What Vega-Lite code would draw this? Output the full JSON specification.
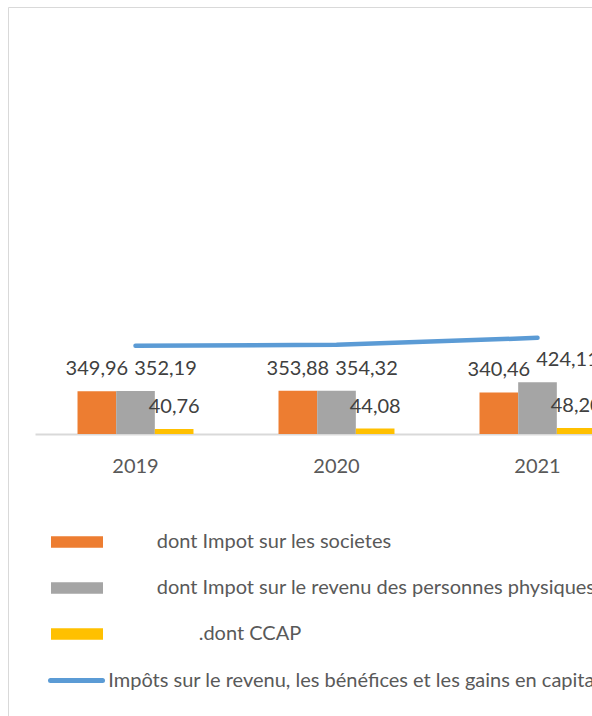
{
  "$schema": "https://vega.github.io/schema/vega-lite/v6.json",
  "width": 584,
  "height": 709,
  "autosize": {"type": "none"},
  "padding": {"left": 8, "top": 7, "right": 0, "bottom": 0},
  "background": "white",
  "config": {
    "view": {"stroke": "#d9d9d9", "strokeWidth": 1},
    "font": "Lato",
    "locale": {"number": {"decimal": ",", "thousands": " ", "grouping": [3], "currency": ["", ""]}}
  },
  "datasets": {
    "bars": [
      {"year": "2019", "series": "dont Impot sur les societes", "value": 349.96},
      {"year": "2019", "series": "dont Impot sur le revenu des personnes physiques", "value": 352.19},
      {"year": "2019", "series": ".dont CCAP", "value": 40.76},
      {"year": "2020", "series": "dont Impot sur les societes", "value": 353.88},
      {"year": "2020", "series": "dont Impot sur le revenu des personnes physiques", "value": 354.32},
      {"year": "2020", "series": ".dont CCAP", "value": 44.08},
      {"year": "2021", "series": "dont Impot sur les societes", "value": 340.46},
      {"year": "2021", "series": "dont Impot sur le revenu des personnes physiques", "value": 424.11},
      {"year": "2021", "series": ".dont CCAP", "value": 48.2}
    ],
    "line": [
      {"year": "2019", "series": "Impôts sur le revenu, les bénéfices et les gains en capital", "value": 723},
      {"year": "2020", "series": "Impôts sur le revenu, les bénéfices et les gains en capital", "value": 731},
      {"year": "2021", "series": "Impôts sur le revenu, les bénéfices et les gains en capital", "value": 788}
    ]
  },
  "layer": [
    {
      "data": {"name": "bars"},
      "mark": {"type": "bar"},
      "encoding": {
        "x": {
          "field": "year", "type": "nominal",
          "scale": {"range": [27, 630], "paddingInner": 0.423, "paddingOuter": 0.2115},
          "axis": {
            "title": null, "orient": "bottom", "offset": -282,
            "domainColor": "#d9d9d9", "domainWidth": 2, "ticks": false, "tickSize": 0,
            "labelFont": "Lato", "labelFontSize": 20, "labelColor": "#595959",
            "labelPadding": 22, "labelAngle": 0, "grid": false
          }
        },
        "xOffset": {
          "field": "series", "type": "nominal",
          "scale": {"domain": ["dont Impot sur les societes", "dont Impot sur le revenu des personnes physiques", ".dont CCAP"], "paddingInner": 0, "paddingOuter": 0}
        },
        "y": {
          "field": "value", "type": "quantitative",
          "scale": {"domain": [0, 3449], "range": [427, 0]},
          "axis": null
        },
        "fill": {
          "field": "series", "type": "nominal",
          "scale": {
            "domain": ["dont Impot sur les societes", "dont Impot sur le revenu des personnes physiques", ".dont CCAP"],
            "range": ["#ed7d31", "#a5a5a5", "#ffc000"]
          },
          "legend": {
            "orient": "none", "legendX": 43, "legendY": 509, "title": null, "direction": "vertical",
            "symbolType": "M-1,-0.225H1V0.225H-1Z", "symbolSize": 2704, "symbolStrokeWidth": 0,
            "labelFont": "Lato", "labelFontSize": 20, "labelColor": "#595959",
            "labelOffset": 53.7, "labelLimit": 1000, "rowPadding": 10, "padding": 0,
            "encode": {"labels": {"update": {"dx": {"signal": "datum.value === '.dont CCAP' ? 42 : 0"}}}}
          }
        }
      }
    },
    {
      "data": {"name": "bars"},
      "transform": [{"filter": "datum.series !== 'dont Impot sur le revenu des personnes physiques'"}],
      "mark": {"type": "text", "baseline": "alphabetic", "dy": -16, "font": "Lato", "fontSize": 20, "color": "#404040"},
      "encoding": {
        "x": {"field": "year", "type": "nominal"},
        "xOffset": {"field": "series", "type": "nominal", "scale": {"domain": ["dont Impot sur les societes", "dont Impot sur le revenu des personnes physiques", ".dont CCAP"]}},
        "y": {"field": "value", "type": "quantitative"},
        "text": {"field": "value", "type": "quantitative", "format": ".2f"}
      }
    },
    {
      "data": {"name": "bars"},
      "transform": [{"filter": "datum.series === 'dont Impot sur le revenu des personnes physiques'"}],
      "mark": {"type": "text", "baseline": "alphabetic", "dy": -16, "dx": 30, "font": "Lato", "fontSize": 20, "color": "#404040"},
      "encoding": {
        "x": {"field": "year", "type": "nominal"},
        "xOffset": {"field": "series", "type": "nominal", "scale": {"domain": ["dont Impot sur les societes", "dont Impot sur le revenu des personnes physiques", ".dont CCAP"]}},
        "y": {"field": "value", "type": "quantitative"},
        "text": {"field": "value", "type": "quantitative", "format": ".2f"}
      }
    },
    {
      "data": {"name": "line"},
      "mark": {"type": "line", "strokeWidth": 4.5, "strokeCap": "round"},
      "encoding": {
        "x": {"field": "year", "type": "nominal"},
        "y": {"field": "value", "type": "quantitative"},
        "stroke": {
          "field": "series", "type": "nominal",
          "scale": {"range": ["#5b9bd5"]},
          "legend": {
            "orient": "none", "legendX": 40, "legendY": 645, "title": null,
            "symbolType": "stroke", "symbolSize": 2704, "symbolStrokeWidth": 5,
            "labelFont": "Lato", "labelFontSize": 20, "labelColor": "#595959",
            "labelOffset": 3.3, "labelLimit": 1000, "padding": 0,
            "encode": {"symbols": {"update": {"strokeCap": {"value": "round"}}}}
          }
        }
      }
    }
  ]
}
